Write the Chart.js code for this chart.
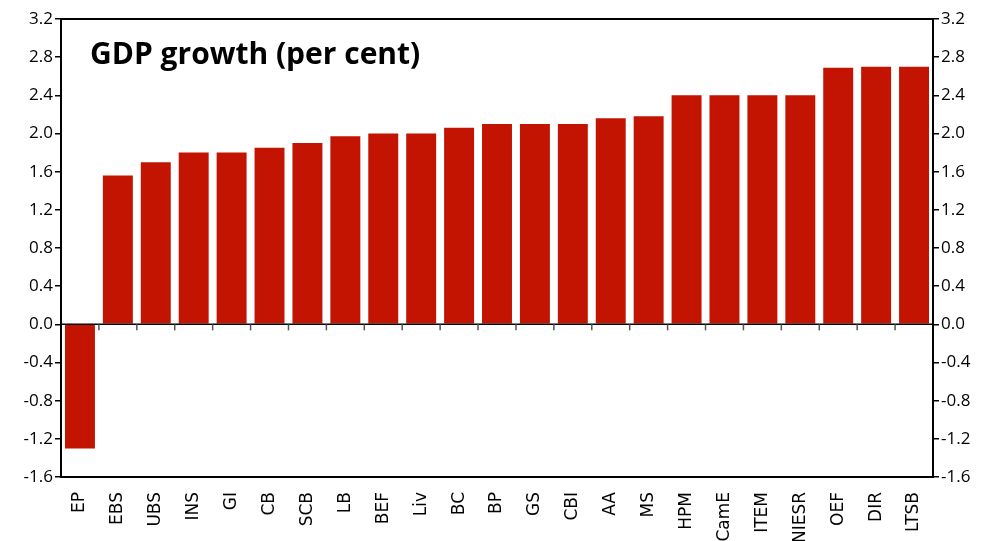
<!DOCTYPE html>
<html>
<head>
<meta charset="utf-8">
<script src="https://cdn.jsdelivr.net/npm/chart.js@4.4.1/dist/chart.umd.min.js"></script>
<style>
  html, body { margin: 0; padding: 0; background: #fff; }
  #wrap { width: 986px; height: 541px; }
</style>
</head>
<body>
<div id="wrap"><canvas id="gdpChart" width="986" height="541"></canvas></div>
<script>
// forecaster codes, sorted by forecast
const forecasters = ['EP', 'EBS', 'UBS', 'INS', 'GI', 'CB', 'SCB', 'LB', 'BEF', 'Liv', 'BC', 'BP',
  'GS', 'CBI', 'AA', 'MS', 'HPM', 'CamE', 'ITEM', 'NIESR', 'OEF', 'DIR', 'LTSB'];
const growth = [-1.3, 1.56, 1.7, 1.8, 1.8, 1.85, 1.9, 1.97, 2.0, 2.0, 2.06, 2.1,
  2.1, 2.1, 2.16, 2.18, 2.4, 2.4, 2.4, 2.4, 2.69, 2.7, 2.7];
const yTicks = [-1.6, -1.2, -0.8, -0.4, 0.0, 0.4, 0.8, 1.2, 1.6, 2.0, 2.4, 2.8, 3.2];
const chartTitle = 'GDP growth (per cent)';

const FONT = '"Open Sans", Lato, sans-serif';

// frame, zero line with category ticks, and the title inside the plot
const framePlugin = {
  id: 'frame',
  afterDatasetsDraw(chart) {
    const { ctx, chartArea: a, scales } = chart;
    const y0 = scales.y.getPixelForValue(0);
    ctx.save();
    ctx.strokeStyle = '#000';
    ctx.lineWidth = 2;
    ctx.strokeRect(a.left, a.top, a.right - a.left, a.bottom - a.top);
    ctx.beginPath();
    ctx.lineWidth = 1.5;
    ctx.moveTo(a.left, y0);
    ctx.lineTo(a.right, y0);
    ctx.stroke();
    // category separators hanging under the zero line
    ctx.strokeStyle = '#555';
    ctx.lineWidth = 1.5;
    const x = scales.x;
    for (let i = 1; i < forecasters.length; i++) {
      const px = (x.getPixelForValue(i - 1) + x.getPixelForValue(i)) / 2;
      ctx.beginPath();
      ctx.moveTo(px, y0);
      ctx.lineTo(px, y0 + 6);
      ctx.stroke();
    }
    ctx.fillStyle = '#000';
    ctx.font = 'bold 30px ' + FONT;
    ctx.textBaseline = 'alphabetic';
    ctx.fillText(chartTitle, a.left + 29, a.top + 45);
    ctx.restore();
  }
};

const yAxis = (pos, w) => ({
  type: 'linear',
  position: pos,
  min: -1.6,
  max: 3.2,
  afterBuildTicks: s => { s.ticks = yTicks.map(v => ({ value: v })); },
  afterFit: s => { s.width = w; },
  border: { display: false },
  grid: { drawOnChartArea: false, drawTicks: true, tickLength: 6, color: '#000', lineWidth: 1.5 },
  ticks: {
    color: '#000',
    padding: 2,
    font: { family: FONT, size: 17 },
    callback: v => v.toFixed(1)
  }
});

const ctx = document.getElementById('gdpChart').getContext('2d');
const gdpChart = new Chart(ctx, {
  type: 'bar',
  data: {
    labels: forecasters,
    datasets: [{
      data: growth,
      backgroundColor: '#c21400',
      borderWidth: 0,
      barPercentage: 0.79,
      categoryPercentage: 1.0
    }]
  },
  options: {
    responsive: false,
    animation: false,
    layout: { padding: { top: 19, left: 0, right: 0, bottom: 0 } },
    plugins: { legend: { display: false }, tooltip: { enabled: false } },
    scales: {
      x: {
        afterFit: s => { s.height = 64; },
        border: { display: false },
        grid: { display: false },
        ticks: {
          color: '#000',
          autoSkip: false,
          minRotation: 90,
          maxRotation: 90,
          padding: 7,
          font: { family: '"DejaVu Sans", sans-serif', size: 17 }
        }
      },
      y: yAxis('left', 61),
      y2: yAxis('right', 53)
    }
  },
  plugins: [framePlugin]
});
</script>
</body>
</html>
